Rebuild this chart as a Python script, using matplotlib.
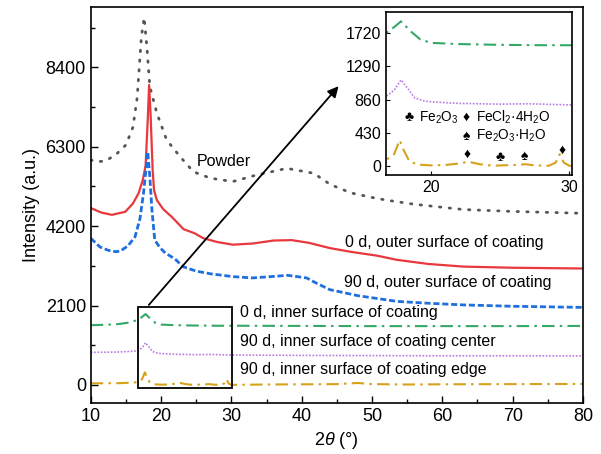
import numpy as np
import matplotlib.pyplot as plt
from matplotlib.patches import Rectangle

plt.rcParams['font.family'] = ['Liberation Sans', 'DejaVu Sans']
plt.rcParams['mathtext.fontset'] = 'custom'
plt.rcParams['mathtext.rm'] = 'Liberation Sans'
plt.rcParams['mathtext.it'] = 'Liberation Sans:italic'

# curves (2theta, intensity)
powder_x = [10, 11, 12, 13.5, 15, 16, 16.6, 17.2, 17.6, 18.0, 18.4, 19.4, 20.8, 22.7, 24.6, 27, 30.2,
            33.6, 37.9, 41.7, 44.1, 47, 50, 52, 56, 63, 70, 80]
powder_y = [5950, 5910, 5920, 6080, 6350, 6820, 7600, 9210, 9720, 8900, 7900, 7190, 6480, 6040, 5640,
            5470, 5380, 5555, 5730, 5600, 5300, 5080, 4960, 4890, 4780, 4640, 4590, 4540]

red_x = [10, 11.5, 13, 14.9, 16.0, 16.8, 17.4, 17.8, 18.1, 18.3, 18.5, 18.8, 19.0, 19.4, 20.3, 21.5, 23.2,
         24.8, 26, 28, 30.2, 33, 36, 38.6, 41, 44, 47, 50.7, 53.5, 58, 63, 70, 80]
red_y = [4680, 4560, 4500, 4580, 4800, 5070, 5420, 5800, 7000, 7935, 7200, 5700, 5150, 4890, 4650, 4450,
         4120, 4010, 3880, 3780, 3710, 3740, 3820, 3830, 3760, 3620, 3520, 3420, 3310, 3200, 3130, 3100, 3080]

blue_x = [10, 11.3, 12.5, 13.5, 14.2, 15.3, 16.3, 17.0, 17.5, 17.8, 18.1, 18.4, 18.7, 19.1, 19.8, 20.6, 22,
          23.1, 25, 27, 30.2, 33, 36, 38, 40.7, 42, 44, 48, 53.5, 58, 63, 70, 80]
blue_y = [3880, 3650, 3560, 3525, 3540, 3680, 3920, 4400, 5070, 5600, 6170, 5510, 4630, 3835, 3640, 3490,
          3330, 3130, 3010, 2940, 2865, 2830, 2870, 2900, 2830, 2700, 2520, 2360, 2210, 2160, 2116, 2080, 2050]

green_x = [10, 12, 14, 15.5, 16.7, 17.3, 17.8, 18.5, 19.2, 20, 22, 25, 28, 30, 40, 50, 60, 70, 80]
green_y = [1580, 1590, 1610, 1650, 1720, 1800, 1875, 1745, 1640, 1595, 1580, 1570, 1565, 1565, 1560, 1555,
           1555, 1555, 1560]

purple_x = [10, 14, 16, 16.7, 17.3, 17.8, 18.3, 18.8, 19.5, 20, 22, 25, 27, 30, 40, 50, 60, 70, 80]
purple_y = [860, 870, 890, 900, 980, 1115, 1000, 880, 840, 830, 810, 800, 805, 790, 780, 775, 770, 770, 767]

orange_x = [10, 14, 16, 16.7, 17.3, 17.7, 18.0, 18.4, 19, 20, 21, 22, 22.7, 23.5, 24.5, 25, 26, 26.8, 27.5,
            28.5, 29.0, 29.3, 29.6, 30, 35, 40, 45, 48, 50, 55, 60, 70, 80]
orange_y = [40, 45, 60, 74, 150, 333, 200, 60, 15, 5, 10, 30, 52, 20, 0, 5, 10, 20, 5,
            0, 40, 150, 40, 0, 10, 15, 20, 50, 20, 10, 15, 20, 25]

curves = [
    (powder_x, powder_y, dict(color='#555555', lw=2.0, ls=(0, (0.5, 3.0)), dash_capstyle='round')),
    (red_x, red_y, dict(color='#e8383d', lw=1.6, ls='-')),
    (blue_x, blue_y, dict(color='#1f6fdc', lw=2.0, ls=(0, (2.2, 1.0)))),
    (green_x, green_y, dict(color='#33a867', lw=1.5, ls=(0, (6, 2.5, 1.2, 2.5)))),
    (purple_x, purple_y, dict(color='#b87be2', lw=1.2, ls=(0, (1, 1)))),
    (orange_x, orange_y, dict(color='#d6a21c', lw=1.5, ls=(0, (6, 2.5, 1.2, 2.5)))),
]

labels = ['Powder', '0 d, outer surface of coating', '90 d, outer surface of coating',
          '0 d, inner surface of coating', '90 d, inner surface of coating center',
          '90 d, inner surface of coating edge']
label_x = [25.1, 46.2, 46.0, 31.2, 31.2, 31.2]
label_y = [5900, 3755, 2710, 1923, 1146, 397]

fig = plt.figure(figsize=(6.01, 4.54), dpi=100)
ax = fig.add_axes([0.151, 0.1123, 0.819, 0.8723])
for x, y, st in curves:
    ax.plot(x, y, **st)
for t, lx, ly in zip(labels, label_x, label_y):
    ax.text(lx, ly, t, fontsize=11.5, va='center', ha='left')

ax.set_xlim(10, 80)
ax.set_ylim(-480, 10000)
ax.set_xticks(np.arange(10, 81, 10))
ax.set_xticks(np.arange(15, 80, 10), minor=True)
ax.set_yticks([0, 2100, 4200, 6300, 8400])
ax.set_yticks([1050, 3150, 5250, 7350, 9450], minor=True)
ax.tick_params(which='both', direction='in', labelsize=13)
ax.tick_params(which='major', length=5, width=1)
ax.tick_params(which='minor', length=3, width=1)
for s in ax.spines.values():
    s.set_linewidth(1.2)
ax.set_xlabel(r'2$\mathit{\theta}$ (°)', fontsize=13)
ax.set_ylabel('Intensity (a.u.)', fontsize=13)

ax.add_patch(Rectangle((16.7, -80), 13.4, 2140, fill=False, edgecolor='black', lw=1.3, zorder=5))
ax.annotate('', xy=(45.5, 7960), xytext=(18.0, 2060),
            arrowprops=dict(arrowstyle='-|>', color='black', lw=1.3, mutation_scale=16), zorder=6)

# inset
ins = fig.add_axes([0.642, 0.6145, 0.310, 0.3597])
for x, y, st in curves[3:]:
    ins.plot(x, y, **st)
ins.set_xlim(16.7, 30.2)
ins.set_ylim(-120, 2000)
ins.set_xticks([20, 30])
ins.set_yticks([0, 430, 860, 1290, 1720])
ins.tick_params(direction='in', labelsize=11.5, length=3)
for s in ins.spines.values():
    s.set_linewidth(1.2)

phase_x = [22.6, 24.96, 26.75, 29.45]
phase_y = [152, 117, 126, 213]
phase_sym = ['♦', '♣', '♠', '♦']
for px, py, sym in zip(phase_x, phase_y, phase_sym):
    ins.text(px, py, sym, fontsize=10, ha='center', va='center')

ins.text(18.38, 629, '♣', fontsize=10, ha='center', va='center')
ins.text(19.1, 629, r'Fe$_2$O$_3$', fontsize=9.8, ha='left', va='center')
ins.text(22.55, 629, '♦', fontsize=10, ha='center', va='center')
ins.text(23.2, 629, r'FeCl$_2$·4H$_2$O', fontsize=9.8, ha='left', va='center')
ins.text(22.55, 386, '♠', fontsize=10, ha='center', va='center')
ins.text(23.2, 386, r'Fe$_2$O$_3$·H$_2$O', fontsize=9.8, ha='left', va='center')

fig.savefig('out.png', dpi=100)
